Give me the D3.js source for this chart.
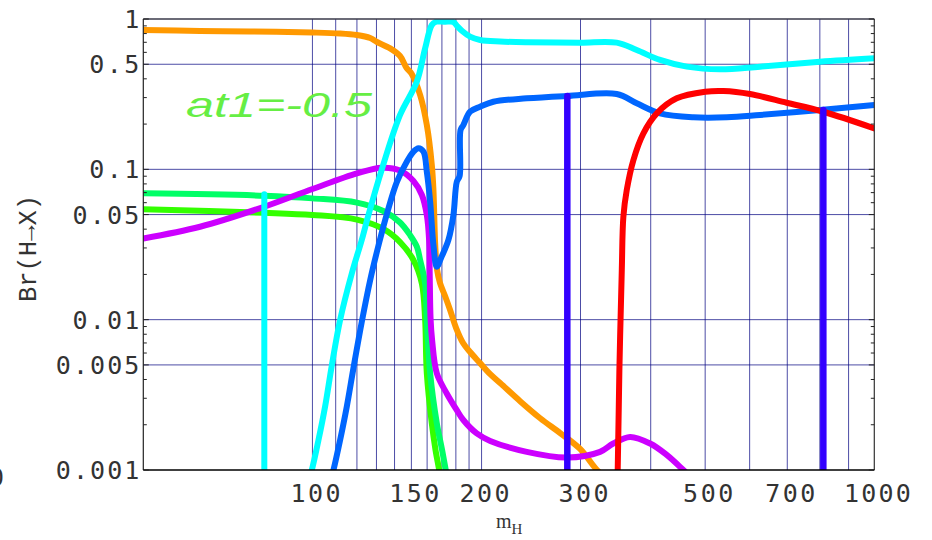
<!DOCTYPE html>
<html>
<head>
<meta charset="utf-8">
<script src="https://cdn.jsdelivr.net/npm/d3@7"></script>
<style>
  body { margin: 0; background: #fff; }
</style>
</head>
<body>
<div id="chart-area"></div>
<script>
// axis values
var xTickVals = [100, 150, 200, 300, 500, 700, 1000];
var xTickText = ["100", "150", "200", "300", "500", "700", "1000"];
var yTickVals = [1, 0.5, 0.1, 0.05, 0.01, 0.005, 0.001];
var yTickText = ["1", "0.5", "0.1", "0.05", "0.01", "0.005", "0.001"];
var xGridVals = [100, 110, 120, 130, 140, 150, 160, 170, 180, 190, 200, 300, 400, 500, 600, 700, 800, 900];
var yGridVals = [0.5, 0.1, 0.05, 0.01, 0.005];
var yMinorVals = [0.9, 0.8, 0.7, 0.6, 0.4, 0.3, 0.2,
                  0.09, 0.08, 0.07, 0.06, 0.04, 0.03, 0.02,
                  0.009, 0.008, 0.007, 0.006, 0.004, 0.003, 0.002];

// curves, each point is [mH, Br]
var orangeCurve = [[50,0.845],[63.1,0.832],[77.5,0.826],[100,0.813],[112,0.801],[120,0.782],[126.7,0.747],
  [130.3,0.703],[137.5,0.638],[143.2,0.567],[147.2,0.47],[150,0.435],[155.5,0.312],[159.8,0.197],[163.1,0.107],
  [164.2,0.0728],[165.4,0.0313],[166.7,0.0214],[168.7,0.0175],[172.2,0.01436],[175.8,0.01159],[180.2,0.00879],
  [185.4,0.00699],[190.8,0.00609],[198.8,0.00514],[207.2,0.00434],[215.8,0.00379],[234.2,0.00287],
  [254.3,0.00221],[276,0.00176],[299.5,0.00138],[321,0.001],[338.6,0.00083]];

var limeCurve = [[50,0.0542],[82.1,0.0514],[100,0.0497],[120,0.0463],[133.7,0.0401],[143.2,0.0328],
  [151.3,0.0249],[156.6,0.0174],[158.7,0.01],[159.8,0.00439],[163.1,0.00204],[165.6,0.00136],[168.1,0.001],[169.4,0.00083]];

var springCurve = [[50,0.0692],[82.1,0.0667],[100,0.0641],[120,0.0601],[133.7,0.0528],[143.2,0.0443],
  [149.2,0.0365],[153.4,0.0306],[155.5,0.0249],[158.7,0.0174],[159.8,0.01],[162,0.00439],[166.5,0.00204],
  [170.1,0.00136],[172.7,0.001],[174.4,0.00083]];

var purpleCurve = [[50,0.0347],[63.1,0.0415],[82.1,0.0564],[100,0.074],[120,0.094],[132.9,0.1025],[143.2,0.0982],
  [151.3,0.0836],[156.6,0.0675],[159.8,0.0497],[161.3,0.0339],[161.7,0.0203],[162.3,0.01],[163.3,0.00732],
  [166.5,0.00439],[173.4,0.00323],[180.7,0.0025],[185.6,0.00215],[196.1,0.00175],[207.2,0.00156],
  [240.7,0.00132],[283.6,0.00121],[325,0.00132],[343.1,0.0015],[367.6,0.00166],[399,0.0015],
  [427.1,0.00126],[457.2,0.001],[479.7,0.00084]];

var cyanStep = [[82.1,0.0682],[82.1,0.0008]];

var cyanCurve = [[98.2,0.00083],[99.75,0.001],[102.5,0.00158],[105.3,0.00263],[108.3,0.005],[112,0.00994],
  [117.5,0.0203],[122.4,0.0339],[125.8,0.0497],[132.9,0.1],[143.2,0.23],[153.4,0.383],[158.7,0.638],
  [163.1,0.912],[166,0.959],[172.2,0.959],[178.2,0.955],[180.9,0.898],[184.7,0.832],[190.8,0.763],
  [198.8,0.725],[215.8,0.708],[240.7,0.7],[299.5,0.696],[347.9,0.696],[377.7,0.622],[415.6,0.534],
  [463.7,0.482],[531.4,0.463],[626,0.482],[800.6,0.52],[1000,0.548]];

var blueCurve = [[107.5,0.00083],[109,0.001],[112,0.00158],[115.1,0.00263],[118.3,0.00476],[122.4,0.00964],
  [126.7,0.01834],[131.4,0.0323],[135.8,0.0512],[141.3,0.0823],[147.2,0.1123],[151.1,0.1303],[154.4,0.1379],
  [157.6,0.131],[159.8,0.0964],[162,0.0609],[164.2,0.0313],[166.5,0.0225],[169.4,0.0257],[174.6,0.0339],
  [178.2,0.0497],[180.7,0.0827],[182.8,0.0902],[183.5,0.1826],[185.6,0.197],[190.8,0.2416],[198.8,0.261],
  [209.9,0.2817],[240.7,0.2968],[283.6,0.3075],[347.9,0.317],[377.7,0.2749],[415.6,0.2358],[476.4,0.2218],
  [546.6,0.2218],[626,0.2298],[800.6,0.248],[1000,0.268]];

var redCurve = [[348.5,0.00083],[349.4,0.001],[351.8,0.00462],[355.3,0.0214],[357.6,0.0484],[362.6,0.0728],
  [372.6,0.1153],[388.2,0.1736],[410.1,0.2358],[445,0.2968],[500,0.3283],[538.9,0.3319],[600.8,0.317],
  [698.4,0.2774],[811.5,0.2416],[1000,0.1874]];

var violetStep1 = [[284.2,0.3075],[284.2,0.0008]];
var violetStep2 = [[811.5,0.248],[811.5,0.0008]];

// drawing order, bottom first
var curves = [
  {data: orangeCurve, color: "#ff9900", w: 6},
  {data: limeCurve, color: "#33ff00", w: 6},
  {data: springCurve, color: "#00ff66", w: 6},
  {data: purpleCurve, color: "#cc00ff", w: 6},
  {data: cyanStep, color: "#00ffff", w: 6},
  {data: cyanCurve, color: "#00ffff", w: 6},
  {data: blueCurve, color: "#0066ff", w: 6},
  {data: redCurve, color: "#ff0000", w: 6},
  {data: violetStep1, color: "#3300ff", w: 6.5},
  {data: violetStep2, color: "#3300ff", w: 6.5}
];

var margin = {top: 19, right: 57.7, bottom: 70, left: 143.3},
    width = 932 - margin.left - margin.right,
    height = 540 - margin.top - margin.bottom;

var root = d3.select("#chart-area")
  .append("svg")
    .attr("width", 932)
    .attr("height", 540);

var svg = root.append("g")
  .attr("transform", `translate(${margin.left}, ${margin.top})`);

var x = d3.scaleLog().domain([50, 1000]).range([0, width]);
var y = d3.scaleLog().domain([0.001, 1]).range([height, 0]);

var tickFont = "'DejaVu Sans Mono', monospace";

// grid
svg.append("g").selectAll("line")
  .data(xGridVals).enter().append("line")
    .attr("x1", d => x(d)).attr("x2", d => x(d))
    .attr("y1", 0).attr("y2", height)
    .attr("stroke", "#000080").attr("stroke-opacity", 0.7).attr("stroke-width", 1);

svg.append("g").selectAll("line")
  .data(yGridVals).enter().append("line")
    .attr("x1", 0).attr("x2", width)
    .attr("y1", d => y(d)).attr("y2", d => y(d))
    .attr("stroke", "#000080").attr("stroke-opacity", 0.7).attr("stroke-width", 1);

// curves
svg.append("clipPath").attr("id", "plotclip")
  .append("rect").attr("width", width).attr("height", height);

var line = d3.line()
  .x(d => x(d[0]))
  .y(d => y(d[1]))
  .curve(d3.curveCatmullRom.alpha(0.5));

svg.append("g").attr("clip-path", "url(#plotclip)")
  .selectAll("path")
  .data(curves).enter().append("path")
    .attr("d", d => line(d.data))
    .attr("fill", "none")
    .attr("stroke", d => d.color)
    .attr("stroke-width", d => d.w)
    .attr("stroke-linecap", "round")
    .attr("stroke-linejoin", "round");

// frame
svg.append("line").attr("x1", 0).attr("x2", width).attr("y1", 0).attr("y2", 0)
  .attr("stroke", "#3a3a4a").attr("stroke-width", 1.5);
svg.append("line").attr("x1", 0).attr("x2", 0).attr("y1", 0).attr("y2", height)
  .attr("stroke", "#222").attr("stroke-width", 1.2);
svg.append("line").attr("x1", width).attr("x2", width).attr("y1", 0).attr("y2", height)
  .attr("stroke", "#333").attr("stroke-width", 1.2);
svg.append("line").attr("x1", 0).attr("x2", width).attr("y1", height).attr("y2", height)
  .attr("stroke", "#000").attr("stroke-width", 1.3);

// y ticks, left and right, pointing inward
[0, width].forEach(function(x0) {
  var dir = x0 === 0 ? 1 : -1;
  svg.append("g").selectAll("line")
    .data(yTickVals).enter().append("line")
      .attr("x1", x0).attr("x2", x0 + dir * 5.5)
      .attr("y1", d => y(d)).attr("y2", d => y(d))
      .attr("stroke", "#222").attr("stroke-width", 1);
  svg.append("g").selectAll("line")
    .data(yMinorVals).enter().append("line")
      .attr("x1", x0).attr("x2", x0 + dir * 3.5)
      .attr("y1", d => y(d)).attr("y2", d => y(d))
      .attr("stroke", "#222").attr("stroke-width", 1);
});

// tick labels
svg.append("g").selectAll("text")
  .data(yTickVals).enter().append("text")
    .attr("x", -4)
    .attr("y", d => y(d))
    .attr("dy", "0.36em")
    .attr("text-anchor", "end")
    .attr("font-family", tickFont)
    .attr("font-size", "25px")
    .attr("fill", "#333")
    .attr("textLength", (d, i) => yTickText[i].length * 16.7)
    .attr("lengthAdjust", "spacing")
    .text((d, i) => yTickText[i]);

svg.append("g").selectAll("text")
  .data(xTickVals).enter().append("text")
    .attr("x", d => x(d) + 3)
    .attr("y", height + 32)
    .attr("text-anchor", "middle")
    .attr("font-family", tickFont)
    .attr("font-size", "25px")
    .attr("fill", "#333")
    .attr("textLength", (d, i) => xTickText[i].length * 16.7)
    .attr("lengthAdjust", "spacing")
    .text((d, i) => xTickText[i]);

// axis titles
root.append("text")
  .attr("transform", "translate(36, 248.5) rotate(-90)")
  .attr("text-anchor", "middle")
  .attr("font-family", "'Liberation Mono', 'Courier New', Courier, monospace")
  .attr("font-size", "25px")
  .attr("fill", "#333")
  .attr("textLength", 107)
  .attr("lengthAdjust", "spacingAndGlyphs")
  .text("Br(H\u2192X)");

var mlabel = root.append("text")
  .attr("x", 496)
  .attr("y", 528)
  .attr("font-family", "'Liberation Serif', serif")
  .attr("font-size", "20px")
  .attr("fill", "#333");
mlabel.append("tspan").text("m");
mlabel.append("tspan").attr("font-size", "15px").attr("dy", 6).text("H");

// stray clipped glyph at the left edge, as in the source image
root.append("text")
  .attr("x", 4).attr("y", 486)
  .attr("text-anchor", "end")
  .attr("font-family", tickFont)
  .attr("font-size", "25px")
  .attr("fill", "#333")
  .text("0");

// annotation
root.append("text")
  .attr("x", 186)
  .attr("y", 116.5)
  .attr("font-family", "'Liberation Sans', sans-serif")
  .attr("font-style", "italic")
  .attr("font-size", "35px")
  .attr("fill", "#66ee44")
  .attr("textLength", 186)
  .attr("lengthAdjust", "spacingAndGlyphs")
  .text("at1=-0.5");
</script>
</body>
</html>
